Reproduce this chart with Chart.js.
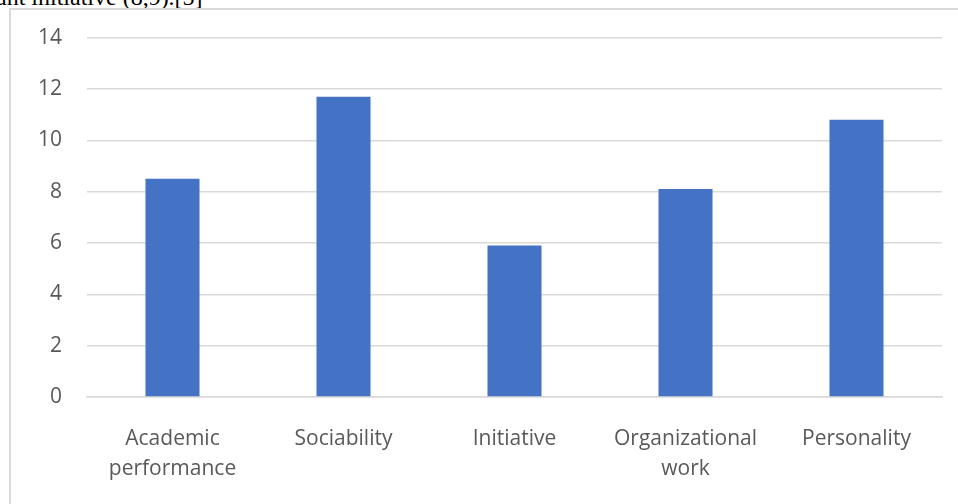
<!DOCTYPE html>
<html>
<head>
<meta charset="utf-8">
<script src="https://cdn.jsdelivr.net/npm/chart.js@4.4.1/dist/chart.umd.min.js"></script>
<style>
  html, body { margin: 0; padding: 0; background: #fff; overflow: hidden; }
  #page { position: relative; width: 958px; height: 504px; overflow: hidden; }
  #caption {
    position: absolute; left: -4px; top: -16px; white-space: nowrap;
    font-family: "Liberation Serif", serif; font-size: 24px; color: #000;
  }
  #frame {
    position: absolute; left: 9px; top: 8px; width: 1000px; height: 600px;
    border-top: 2px solid #d9d9d9; border-left: 2px solid #d9d9d9;
  }
  #wrap { position: absolute; left: 0; top: 0; width: 958px; height: 504px; }
</style>
</head>
<body>
<div id="page">
  <div id="caption">ant initiative (8,9).[5]</div>
  <div id="frame"></div>
  <div id="wrap"><canvas id="myChart"></canvas></div>
</div>
<script>
/*** chart data ***/
const categories = [
  ["Academic", "performance"],
  "Sociability",
  "Initiative",
  ["Organizational", "work"],
  "Personality",
];
const scores = [8.5, 11.7, 5.9, 8.1, 10.8];
const yTicks = [0, 2, 4, 6, 8, 10, 12, 14];

const tickFont = { family: "'Open Sans', sans-serif", size: 21 };

var ctx = document.getElementById("myChart").getContext("2d");
var chart = new Chart(ctx, {
  type: "bar",
  data: {
    labels: categories,
    datasets: [
      {
        label: "score",
        data: scores,
        backgroundColor: "#4472c4",
        categoryPercentage: 1,
        barPercentage: 0.316,
      },
    ],
  },
  options: {
    responsive: true,
    maintainAspectRatio: false,
    animation: false,
    layout: { padding: { top: 37, right: 16, left: 0, bottom: 0 } },
    plugins: {
      legend: { display: false },
      tooltip: { enabled: false },
    },
    scales: {
      x: {
        grid: { display: false },
        border: { display: true, color: "#d9d9d9", width: 1.5 },
        ticks: {
          color: "#595959",
          font: Object.assign({ lineHeight: 1.43 }, tickFont),
          padding: 19,
          maxRotation: 0,
          autoSkip: false,
        },
        afterFit: (s) => { s.height = 107; },
      },
      y: {
        min: yTicks[0],
        max: yTicks[yTicks.length - 1],
        afterBuildTicks: (s) => { s.ticks = yTicks.map((v) => ({ value: v })); },
        grid: { color: "#d9d9d9", lineWidth: 1.5, drawTicks: false },
        border: { display: false },
        ticks: {
          color: "#595959",
          font: tickFont,
          padding: 25,
        },
        afterFit: (s) => { s.width = 87; },
      },
    },
  },
});
</script>
</body>
</html>
